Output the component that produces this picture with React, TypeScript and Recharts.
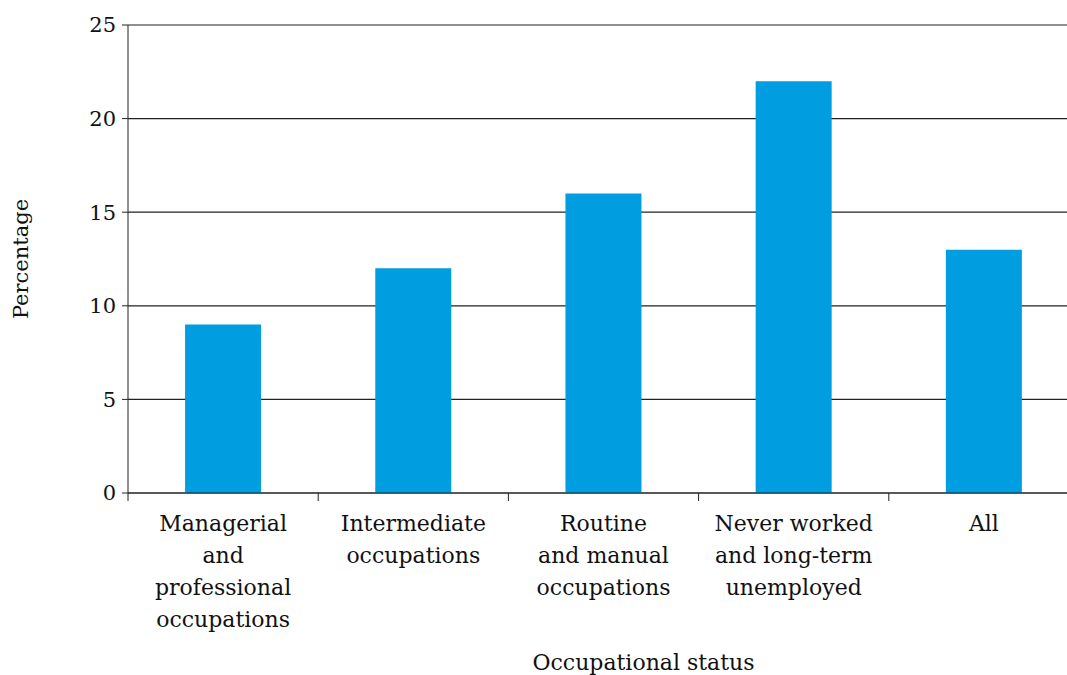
import { BarChart, Bar, XAxis, YAxis, CartesianGrid, Label } from 'recharts';

const categories = [
  'Managerial\nand\nprofessional\noccupations',
  'Intermediate\noccupations',
  'Routine\nand manual\noccupations',
  'Never worked\nand long-term\nunemployed',
  'All',
];
const percentages = [9, 12, 16, 22, 13];
const yTicks = [0, 5, 10, 15, 20, 25];

const data = categories.map((name, i) => ({ name, value: percentages[i] }));

const FONT = '"DejaVu Serif", serif';

// multi-line category label plus tick marks on the band edges
function CategoryTick(props: any) {
  const { x, y, payload, index, visibleTicksCount } = props;
  const half = payload.offset ?? 0;
  const lines = String(payload.value).split('\n');
  const last = index === (visibleTicksCount ?? categories.length) - 1;
  return (
    <g>
      <line x1={x - half} x2={x - half} y1={y} y2={y + 8} stroke="#222" />
      {last && <line x1={x + half} x2={x + half} y1={y} y2={y + 8} stroke="#222" />}
      <text x={x} y={y} textAnchor="middle" fill="#111" fontFamily={FONT} fontSize={22}>
        {lines.map((l, i) => (
          <tspan key={i} x={x} dy={i === 0 ? 38 : 32}>
            {l}
          </tspan>
        ))}
      </text>
    </g>
  );
}

export default function App() {
  return (
    <div style={{ position: 'fixed', left: 0, top: 0, width: 1067, height: 675, overflow: 'hidden', background: '#fff' }}>
      <BarChart
        width={1067}
        height={675}
        data={data}
        margin={{ top: 25, right: -12, left: 0, bottom: 0 }}
        barCategoryGap="30%"
        style={{ overflow: 'hidden' }}
      >
        <CartesianGrid vertical={false} stroke="#222" strokeWidth={1.2} />
        <XAxis
          dataKey="name"
          height={182}
          stroke="#222"
          interval={0}
          tick={<CategoryTick />}
          tickLine={false}
          tickSize={0}
          tickMargin={0}
        >
          <Label
            value="Occupational status"
            position="insideBottom"
            offset={5}
            dx={40}
            style={{ fontFamily: FONT, fontSize: 22, fill: '#111' }}
          />
        </XAxis>
        <YAxis
          domain={[0, 25]}
          ticks={yTicks}
          width={128}
          stroke="#222"
          tickSize={6}
          tickMargin={6}
          tick={{ fontFamily: FONT, fontSize: 21, fill: '#111' }}
        >
          <Label
            value="Percentage"
            angle={-90}
            position="insideLeft"
            offset={21}
            style={{ textAnchor: 'middle', fontFamily: FONT, fontSize: 21, fill: '#111' }}
          />
        </YAxis>
        <Bar dataKey="value" fill="#009ee0" isAnimationActive={false} />
      </BarChart>
    </div>
  );
}
